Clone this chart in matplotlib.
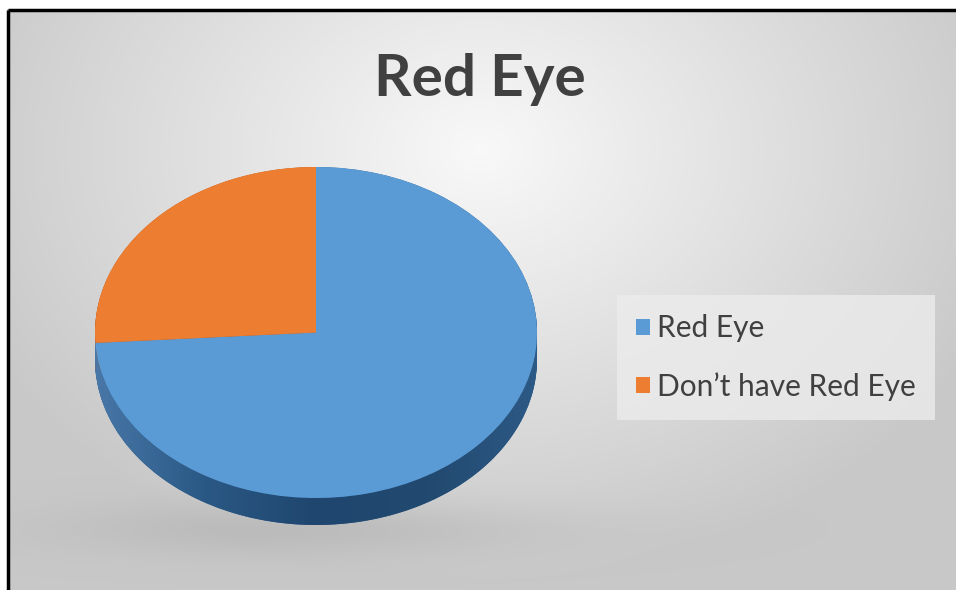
import numpy as np
import matplotlib.pyplot as plt
from matplotlib.patches import Patch, PathPatch
from matplotlib.path import Path
from matplotlib.colors import LinearSegmentedColormap

# Data
labels = ['Red Eye', 'Don\u2019t have Red Eye']
values = [74, 26]
colors = ['#5B9BD5', '#ED7D31']
side_colors = ['#2E5F8F', '#B65A1E']
title = 'Red Eye'

W, H = 956, 590
fig = plt.figure(figsize=(W / 100, H / 100), dpi=100)
fig.patch.set_facecolor('white')

# Background: soft radial gradient, white margin and black frame line
bg = fig.add_axes([0, 0, 1, 1])
pad = 4
yy, xx = np.mgrid[-pad:H + pad, -pad:W + pad]
d = np.sqrt(((xx - 480) / 560) ** 2 + ((yy - 150) / 430) ** 2)
g = 0.975 - 0.19 * np.clip(d, 0, 1)
g -= 0.06 * np.exp(-(((xx - 320) / 240) ** 2 + ((yy - 528) / 28) ** 2))
g[(yy < 9) | (xx < 7)] = 1
img = np.dstack([g, g, g])
bg.imshow(img, extent=[-pad, W + pad, H + pad, -pad], aspect='auto',
          interpolation='nearest')
bg.plot([8, 8], [H + 5, 10], color='black', lw=2.5, solid_capstyle='butt')
bg.plot([8, W + 5], [10, 10], color='black', lw=2.5, solid_capstyle='butt')
bg.set_xlim(0, W)
bg.set_ylim(H, 0)
bg.axis('off')

bg.text(480, 80, title, ha='center', va='center', fontsize=42,
        fontweight='bold', family='Lato', color='#404040')

# Pie axes (tilted look: elliptical top face plus extruded side)
ax = fig.add_axes([95 / W, (H - 525) / H, 442 / W, 358 / H])
dep = 2 * 27 / 331
n = 25
for k in range(n):
    ax.pie(values, colors=side_colors, center=(0, -dep * k / (n - 1)),
           startangle=90, counterclock=False, radius=1,
           wedgeprops=dict(linewidth=0))

# shading on the side band
th = np.linspace(np.pi, 2 * np.pi, 200)
top = np.column_stack([np.cos(th), np.sin(th)])
bot = np.column_stack([np.cos(th[::-1]), np.sin(th[::-1]) - dep])
band = Path(np.vstack([top, bot, top[:1]]))
clip = PathPatch(band, transform=ax.transData, facecolor='none', edgecolor='none')
ax.add_patch(clip)
gx = np.linspace(-1, 1, 300)
cmap = LinearSegmentedColormap.from_list(
    'side', ['#4877A8', '#2A5884', '#1F466E', '#22496F', '#2C5985'])
grad = ax.imshow(gx[None, :], extent=[-1, 1, -1 - dep, 0], cmap=cmap,
                 aspect='auto', zorder=2)
grad.set_clip_path(clip)

wedges, _ = ax.pie(values, colors=colors, startangle=90, counterclock=False,
                   radius=1, wedgeprops=dict(linewidth=0, zorder=3))
ax.set_aspect('auto')
ax.set_xlim(-1, 1)
ax.set_ylim(-1 - dep, 1)
ax.axis('off')

# Legend
handles = [Patch(facecolor=c, edgecolor='none') for c in colors]
leg = fig.legend(handles, labels, loc='upper left',
                 bbox_to_anchor=(617 / W, 1 - 295 / H), borderaxespad=0,
                 frameon=True, handlelength=0.45, handleheight=0.45,
                 handletextpad=0.25, labelspacing=1.0, borderpad=0.65,
                 labelcolor='#404040', prop={'family': 'Lato', 'size': 21.5})
leg.get_frame().set_facecolor('#ececec')
leg.get_frame().set_edgecolor('none')
leg.get_frame().set_boxstyle('square', pad=0)

fig.savefig('out.png', dpi=100)
